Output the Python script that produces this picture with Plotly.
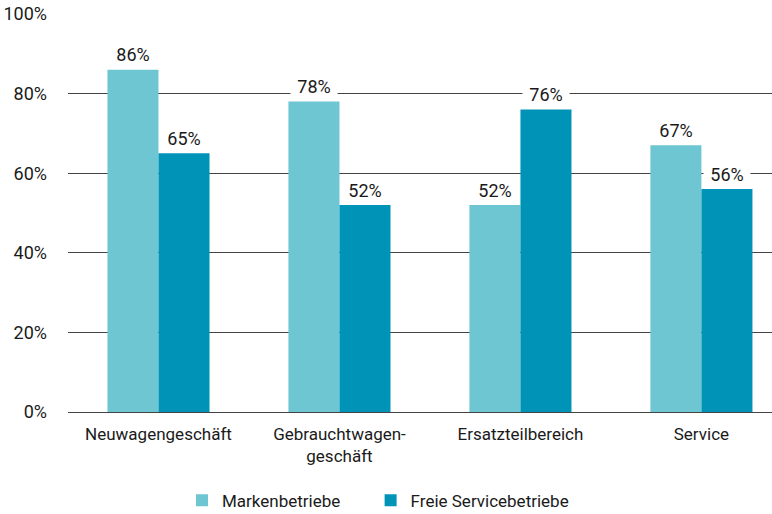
import plotly.graph_objects as go

categories = ["Neuwagengeschäft", "Gebrauchtwagen-<br>geschäft", "Ersatzteilbereich", "Service"]
marken = [86, 78, 52, 67]
freie = [65, 52, 76, 56]
series_names = ["Markenbetriebe", "Freie Servicebetriebe"]
colors = ["#6EC6D2", "#0093B8"]
y_ticks = [0, 20, 40, 60, 80, 100]
y_tick_labels = ["0%", "20%", "40%", "60%", "80%", "100%"]

FONT = "Roboto, Liberation Sans Narrow, sans-serif"

fig = go.Figure()
for k, (name, vals, col) in enumerate(zip(series_names, [marken, freie], colors)):
    label = name + ("&nbsp;" * 6 if k == 0 else "")
    fig.add_trace(go.Bar(x=categories, y=vals, name=label, marker=dict(color=col, line=dict(width=0))))

annotations = []
for i, (vals, off) in enumerate([(marken, -0.5), (freie, 0.5)]):
    for j, v in enumerate(vals):
        annotations.append(dict(
            x=j, y=v, xref="x", yref="y", text=f"{v}%", showarrow=False,
            xshift=off * 51, yshift=15, bgcolor="white", borderpad=2, width=42,
            font=dict(size=18, color="#1a1a1a", family=FONT)))

fig.update_layout(
    width=772, height=514,
    margin=dict(l=68, r=0, t=14, b=102, autoexpand=False),
    barmode="group", bargap=0.436, bargroupgap=0,
    plot_bgcolor="white", paper_bgcolor="white",
    font=dict(family=FONT, size=17, color="#1a1a1a"),
    annotations=annotations,
    showlegend=True,
    legend=dict(orientation="h", x=(182 - 68) / 704, xanchor="left", y=-0.223, yanchor="middle",
                font=dict(size=17), traceorder="normal"),
    xaxis=dict(type="category", range=[-0.5, 3.39], showgrid=False, showline=False,
               tickfont=dict(size=17), ticks="", automargin=False, ticklabelstandoff=10),
    yaxis=dict(range=[0, 100], tickvals=y_ticks, ticktext=y_tick_labels,
               showgrid=True, gridcolor="#444", gridwidth=1, zeroline=True,
               zerolinecolor="#444", zerolinewidth=1, ticklabelstandoff=20,
               tickfont=dict(size=18), automargin=False),
)

fig.write_html("out.html", config={"displayModeBar": False},
               post_script="document.body.style.margin='0';document.body.style.overflow='hidden';")
